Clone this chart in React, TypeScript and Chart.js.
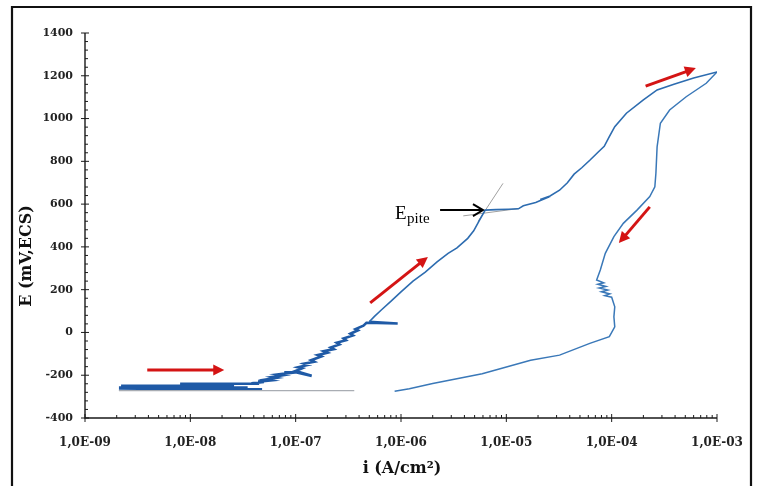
import React, { useEffect, useRef } from 'react';
import { Chart, registerables } from 'chart.js';

Chart.register(...registerables);

// ---- data (current density in A/cm², potential in mV/ECS) ----
const forwardI = [
  2.1e-9, 4.8e-8, 2.1e-9, 3.5e-8, 2.2e-9, 2.6e-8, 8e-9, 4.5e-8, 3.8e-8, 5.0e-8,
  4.4e-8, 5.8e-8, 5.2e-8, 6.6e-8, 6.0e-8, 7.6e-8, 6.8e-8, 8.6e-8, 7.8e-8, 1.0e-7,
  1.42e-7, 1.0e-7, 1.15e-7, 1.05e-7, 1.3e-7, 1.2e-7, 1.5e-7, 1.4e-7, 1.75e-7, 1.62e-7,
  2.0e-7, 1.85e-7, 2.3e-7, 2.15e-7, 2.6e-7, 2.45e-7, 3.0e-7, 2.85e-7, 3.5e-7, 3.3e-7,
  3.9e-7, 3.7e-7, 4.4e-7, 4.7e-7, 9.3e-7, 5.0e-7, 5.6e-7, 6.5e-7, 8e-7, 1.0e-6,
  1.3e-6, 1.7e-6, 2.2e-6, 2.8e-6, 3.4e-6, 4.3e-6, 4.9e-6, 5.5e-6, 6.3e-6, 8e-6,
  1.05e-5, 1.3e-5, 1.45e-5, 1.9e-5, 2.3e-5, 2.1e-5, 2.6e-5, 3.2e-5, 3.8e-5, 4.4e-5,
  5.2e-5, 6.2e-5, 7.5e-5, 8.5e-5, 9.5e-5, 1.07e-4, 1.38e-4, 2.0e-4, 2.7e-4, 3.9e-4,
  6.0e-4, 1.0e-3,
];
const forwardE = [
  -266, -266, -258, -258, -250, -250, -240, -240, -238, -232,
  -230, -224, -220, -212, -208, -200, -196, -190, -186, -186,
  -203, -180, -168, -163, -152, -146, -137, -130, -112, -106,
  -95, -88, -78, -70, -56, -48, -36, -28, -14, -6,
  10, 16, 32, 45, 42, 50, 75, 105, 145, 190,
  240, 282, 330, 370, 395, 440, 475, 520, 572, 574,
  576, 578, 592, 608, 625, 622, 638, 665, 700, 740,
  770, 805, 845, 870, 915, 962, 1025, 1087, 1134, 1160,
  1190, 1218,
];
const reverseI = [
  1.0e-3, 7.9e-4, 5.1e-4, 3.55e-4, 2.9e-4, 2.7e-4, 2.63e-4, 2.57e-4, 2.3e-4, 1.74e-4,
  1.29e-4, 1.05e-4, 8.7e-5, 7.8e-5, 7.2e-5, 8.4e-5, 7.4e-5, 8.8e-5, 7.6e-5, 9.2e-5,
  8.0e-5, 9.6e-5, 8.6e-5, 1.0e-4, 1.07e-4, 1.05e-4, 1.07e-4, 9.5e-5, 6.2e-5, 3.2e-5,
  1.7e-5, 5.9e-6, 2.0e-6, 1.2e-6, 8.7e-7,
];
const reverseE = [
  1218, 1165, 1102, 1040, 978, 868, 744, 681, 635, 572,
  510, 448, 370, 292, 245, 232, 225, 215, 208, 198,
  190, 180, 172, 165, 120, 73, 26, -20, -51, -106,
  -130, -193, -239, -263, -275,
];
const baselineI = [2.1e-9, 3.6e-7];
const baselineE = [-272, -272];
const tangentUpI = [5.4e-6, 9.3e-6];
const tangentUpE = [520, 697];
const tangentFlatI = [3.9e-6, 1.35e-5];
const tangentFlatE = [545, 580];

const xDecades = [1e-9, 1e-8, 1e-7, 1e-6, 1e-5, 1e-4, 1e-3];
const yMin = -400;
const yMax = 1400;
const yStep = 200;
const yMinorStep = 40;

// annotation arrows (data coordinates)
const redArrowFrom = [[3.9e-9, -175], [5.1e-7, 138], [2.1e-4, 1152], [2.3e-4, 587]];
const redArrowTo = [[2.1e-8, -175], [1.8e-6, 353], [6.3e-4, 1236], [1.17e-4, 418]];
const epitArrowFrom = [2.35e-6, 572];
const epitArrowTo = [6.0e-6, 572];
const epitLabelAt = [8.77e-7, 572];

const pts = (xs: number[], ys: number[]) => xs.map((x, i) => ({ x, y: ys[i] }));

const fmtX = (v: number) => {
  const e = Math.round(Math.log10(v));
  if (Math.abs(v / Math.pow(10, e) - 1) > 1e-6) return '';
  return '1,0E-' + String(-e).padStart(2, '0');
};

function drawArrow(ctx: CanvasRenderingContext2D, x1: number, y1: number, x2: number, y2: number, color: string, width: number, filled: boolean) {
  const ang = Math.atan2(y2 - y1, x2 - x1);
  const hl = filled ? 11 : 10;
  const hw = filled ? 5.5 : 6;
  ctx.save();
  ctx.strokeStyle = color;
  ctx.fillStyle = color;
  ctx.lineWidth = width;
  ctx.lineCap = 'butt';
  ctx.beginPath();
  ctx.moveTo(x1, y1);
  ctx.lineTo(x2 - Math.cos(ang) * (filled ? hl * 0.8 : 1), y2 - Math.sin(ang) * (filled ? hl * 0.8 : 1));
  ctx.stroke();
  const bx = x2 - Math.cos(ang) * hl;
  const by = y2 - Math.sin(ang) * hl;
  const px = -Math.sin(ang) * hw;
  const py = Math.cos(ang) * hw;
  ctx.beginPath();
  if (filled) {
    ctx.moveTo(x2, y2);
    ctx.lineTo(bx + px, by + py);
    ctx.lineTo(bx - px, by - py);
    ctx.closePath();
    ctx.fill();
  } else {
    ctx.moveTo(bx + px, by + py);
    ctx.lineTo(x2, y2);
    ctx.lineTo(bx - px, by - py);
    ctx.stroke();
  }
  ctx.restore();
}

const decorPlugin = {
  id: 'decor',
  afterDraw(chart: any) {
    const ctx: CanvasRenderingContext2D = chart.ctx;
    const xs = chart.scales.x;
    const ys = chart.scales.y;
    const a = chart.chartArea;
    ctx.save();
    // frame
    ctx.strokeStyle = '#111';
    ctx.lineWidth = 2.2;
    ctx.beginPath();
    ctx.moveTo(12, 486);
    ctx.lineTo(12, 7);
    ctx.lineTo(751, 7);
    ctx.lineTo(751, 486);
    ctx.stroke();

    // axis lines
    ctx.strokeStyle = '#1a1a1a';
    ctx.lineWidth = 1.4;
    ctx.beginPath();
    ctx.moveTo(a.left, a.top);
    ctx.lineTo(a.left, a.bottom);
    ctx.lineTo(a.right, a.bottom);
    ctx.stroke();

    // x ticks
    ctx.lineWidth = 1;
    ctx.beginPath();
    xDecades.forEach((d, idx) => {
      const p = xs.getPixelForValue(d);
      ctx.moveTo(p, a.bottom - 4);
      ctx.lineTo(p, a.bottom + 4);
      if (idx < xDecades.length - 1) {
        for (let k = 2; k <= 9; k++) {
          const q = xs.getPixelForValue(k * d);
          ctx.moveTo(q, a.bottom - 3);
          ctx.lineTo(q, a.bottom);
        }
      }
    });
    // y ticks
    for (let v = yMin; v <= yMax; v += yMinorStep) {
      const p = ys.getPixelForValue(v);
      if (v % yStep === 0) {
        ctx.moveTo(a.left - 4, p);
        ctx.lineTo(a.left + 4, p);
      } else {
        ctx.moveTo(a.left, p);
        ctx.lineTo(a.left + 3, p);
      }
    }
    ctx.stroke();

    // axis titles
    ctx.fillStyle = '#111';
    ctx.font = 'bold 16px "DejaVu Serif"';
    ctx.textAlign = 'center';
    ctx.textBaseline = 'middle';
    ctx.fillText('i (A/cm²)', (a.left + a.right) / 2 + 1, 469);
    ctx.save();
    ctx.translate(27, 256);
    ctx.rotate(-Math.PI / 2);
    ctx.fillText('E (mV,ECS)', 0, 0);
    ctx.restore();

    // arrows
    for (let i = 0; i < redArrowFrom.length; i++) {
      const f = redArrowFrom[i];
      const t = redArrowTo[i];
      drawArrow(ctx, xs.getPixelForValue(f[0]), ys.getPixelForValue(f[1]), xs.getPixelForValue(t[0]), ys.getPixelForValue(t[1]), '#d41414', 3, true);
    }
    drawArrow(
      ctx,
      xs.getPixelForValue(epitArrowFrom[0]), ys.getPixelForValue(epitArrowFrom[1]),
      xs.getPixelForValue(epitArrowTo[0]), ys.getPixelForValue(epitArrowTo[1]),
      '#000', 2, false
    );

    // E_pite label
    const lx = xs.getPixelForValue(epitLabelAt[0]);
    const ly = ys.getPixelForValue(epitLabelAt[1]);
    ctx.fillStyle = '#000';
    ctx.textAlign = 'left';
    ctx.textBaseline = 'alphabetic';
    ctx.font = '19px "Liberation Serif"';
    ctx.fillText('E', lx, ly + 9);
    const w = ctx.measureText('E').width;
    ctx.font = '15px "Liberation Serif"';
    ctx.fillText('pite', lx + w + 0.5, ly + 13);
    ctx.restore();
  },
};

export default function App() {
  const ref = useRef<HTMLCanvasElement | null>(null);
  useEffect(() => {
    if (!ref.current) return;
    const blue = '#2d6cb0';
    const noisy = (c: any) => c.p0.parsed.y < 60 && c.p1.parsed.y < 60 && c.p0.parsed.x < 1e-6;
    const chart = new Chart(ref.current, {
      type: 'scatter',
      data: {
        datasets: [
          { data: pts(baselineI, baselineE), showLine: true, borderColor: '#a9adb3', borderWidth: 1.4, pointRadius: 0 },
          {
            data: pts(forwardI, forwardE),
            showLine: true,
            borderColor: blue,
            borderWidth: 1.6,
            pointRadius: 0,
            segment: {
              borderWidth: (c: any) => (noisy(c) ? 2.6 : 1.6),
              borderColor: (c: any) => (noisy(c) ? '#1f5aa6' : blue),
            },
          },
          { data: pts(reverseI, reverseE), showLine: true, borderColor: '#3a78b8', borderWidth: 1.5, pointRadius: 0 },
          { data: pts(tangentUpI, tangentUpE), showLine: true, borderColor: '#a0a0a0', borderWidth: 1, pointRadius: 0 },
          { data: pts(tangentFlatI, tangentFlatE), showLine: true, borderColor: '#a0a0a0', borderWidth: 1, pointRadius: 0 },
        ],
      },
      options: {
        animation: false,
        responsive: false,
        layout: { padding: { left: 0, top: 33, right: 41, bottom: 0 } },
        plugins: { legend: { display: false }, tooltip: { enabled: false } },
        scales: {
          x: {
            type: 'logarithmic',
            min: 1e-9,
            max: 1e-3,
            afterBuildTicks: (s: any) => {
              s.ticks = xDecades.map((v) => ({ value: v }));
            },
            afterFit: (s: any) => {
              s.height = 68;
              s.paddingLeft = 0;
              s.paddingRight = 0;
            },
            grid: { display: false, drawTicks: false },
            border: { display: false },
            ticks: {
              autoSkip: false,
              maxRotation: 0,
              padding: 18,
              color: '#222',
              font: { family: 'DejaVu Serif', size: 12, weight: 'bold' },
              callback: (v: any) => fmtX(Number(v)),
            },
          },
          y: {
            type: 'linear',
            min: yMin,
            max: yMax,
            afterFit: (s: any) => {
              s.width = 85;
              s.paddingTop = 0;
              s.paddingBottom = 0;
            },
            grid: { display: false, drawTicks: false },
            border: { display: false },
            ticks: {
              stepSize: yStep,
              padding: 12,
              color: '#222',
              font: { family: 'DejaVu Serif', size: 11, weight: 'bold' },
              callback: (v: any) => String(v),
            },
          },
        },
      },
      plugins: [decorPlugin],
    } as any);
    return () => chart.destroy();
  }, []);
  return (
    <div style={{ position: 'fixed', left: 0, top: 0, width: 758, height: 486, background: '#fff' }}>
      <canvas ref={ref} width={758} height={486} style={{ display: 'block' }} />
    </div>
  );
}
